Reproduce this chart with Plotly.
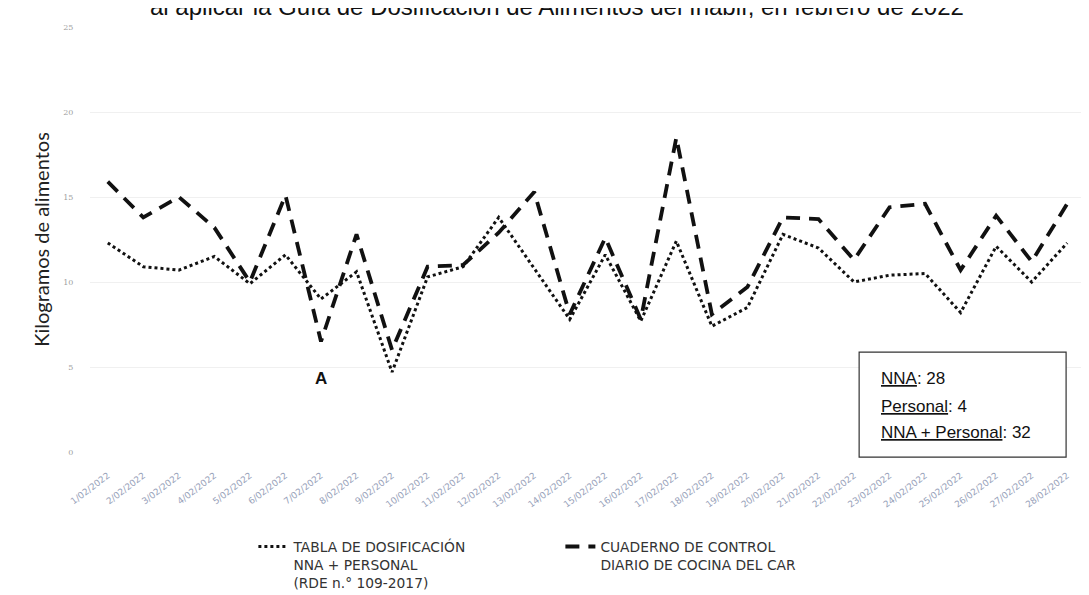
import plotly.graph_objects as go

dates = [f"{d}/02/2022" for d in range(1, 29)]

tabla = [12.3, 10.9, 10.7, 11.5, 9.9, 11.6, 9.0, 10.6, 4.7, 10.3, 10.9, 13.8, 10.8, 7.8,
         11.6, 7.7, 12.4, 7.4, 8.5, 12.8, 12.0, 10.0, 10.4, 10.5, 8.2, 12.1, 10.0, 12.3]
cuaderno = [15.9, 13.8, 15.0, 13.2, 10.0, 15.1, 6.5, 12.8, 6.0, 10.9, 11.0, 12.9, 15.3, 8.1,
            12.6, 7.8, 18.5, 8.1, 9.7, 13.8, 13.7, 11.3, 14.4, 14.6, 10.7, 13.9, 11.2, 14.6]

name_tabla = "TABLA DE DOSIFICACIÓN<br>NNA + PERSONAL<br>(RDE n.° 109-2017)"
name_cuaderno = "CUADERNO DE CONTROL<br>DIARIO DE COCINA DEL CAR"

title_text = "al aplicar la Guía de Dosificación de Alimentos del Inabif, en febrero de 2022"
box_lines = ["<u>NNA</u>: 28", "<u>Personal</u>: 4", "<u>NNA + Personal</u>: 32"]

fig = go.Figure()
fig.add_trace(go.Scatter(x=dates, y=tabla, mode="lines", name=name_tabla,
                         line=dict(color="#111111", width=3, dash="dot")))
fig.add_trace(go.Scatter(x=dates, y=cuaderno, mode="lines", name=name_cuaderno,
                         line=dict(color="#111111", width=3.8, dash="14px,9px")))

fig.update_layout(
    width=1081, height=587,
    margin=dict(l=82, r=4, t=19, b=143, autoexpand=False),
    paper_bgcolor="white", plot_bgcolor="white",
    font=dict(family="Liberation Sans, Arial", color="#222"),
    showlegend=True,
    legend=dict(orientation="h", xref="container", yref="container",
                x=0.227, xanchor="left", y=0.109, yanchor="top",
                valign="top", entrywidth=262, entrywidthmode="pixels",
                font=dict(family="DejaVu Sans", size=13.8, color="#333"),
                bgcolor="rgba(0,0,0,0)", tracegroupgap=0),
    xaxis=dict(type="category", range=[-0.5, 27.5], showgrid=False, zeroline=False,
               showline=False, ticks="outside", ticklen=14, tickcolor="rgba(0,0,0,0)",
               tickangle=-37, automargin=False,
               tickfont=dict(family="DejaVu Sans", size=9, color="#98a2ba")),
    yaxis=dict(range=[0, 25], tickvals=[0, 5, 10, 15, 20, 25], showgrid=True,
               gridcolor="#f0f0f0", gridwidth=1, zeroline=False, showline=False,
               ticks="outside", ticklen=14, tickcolor="rgba(0,0,0,0)", automargin=False,
               tickfont=dict(family="DejaVu Serif", size=8, color="#a0a0a0"),
               title=dict(text="Kilogramos de alimentos", standoff=8,
                          font=dict(family="Lato", size=20, color="#222"))),
)

fig.add_annotation(text=title_text, xref="paper", yref="paper", x=0.469, y=1.011,
                   xanchor="center", yanchor="bottom", showarrow=False,
                   font=dict(family="Liberation Sans", size=24, color="#111"))

fig.add_annotation(text="<b>A</b>", x=dates[6], y=4.3, showarrow=False,
                   font=dict(family="Liberation Sans", size=17, color="#111"))

fig.add_shape(type="rect", xref="paper", yref="paper", x0=0.773, x1=0.981, y0=-0.012, y1=0.235,
              line=dict(color="#333", width=1.2), fillcolor="white", layer="above")
for yy, t in zip([0.174, 0.108, 0.047], box_lines):
    fig.add_annotation(text=t, xref="paper", yref="paper", x=0.793, y=yy, xanchor="left",
                       yanchor="middle", showarrow=False, align="left",
                       font=dict(family="Liberation Sans Narrow, Liberation Sans", size=17, color="#111"))

fig.write_html("out.html")
